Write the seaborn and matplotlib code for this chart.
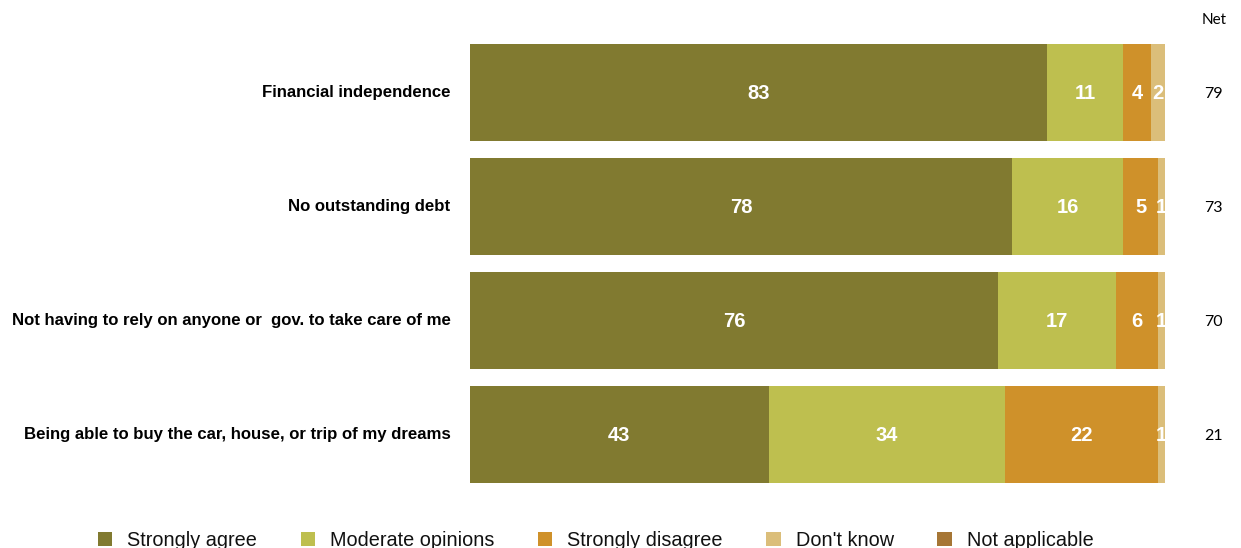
import matplotlib
matplotlib.use("Agg")
import matplotlib.pyplot as plt
from matplotlib.patches import Patch
import seaborn as sns
import pandas as pd
import numpy as np

categories = [
    "Financial independence",
    "No outstanding debt",
    "Not having to rely on anyone or  gov. to take care of me",
    "Being able to buy the car, house, or trip of my dreams",
]
series_names = ["Strongly agree", "Moderate opinions", "Strongly disagree",
                "Don't know", "Not applicable"]
strongly_agree = [83, 78, 76, 43]
moderate = [11, 16, 17, 34]
strongly_disagree = [4, 5, 6, 22]
dont_know = [2, 1, 1, 1]
not_applicable = [0, 0, 0, 0]
net_values = [79, 73, 70, 21]

colors = ["#817A30", "#BEBF4F", "#CF912A", "#DBBE7A", "#A67635"]

sns.set_theme(style="white")
plt.rcParams["font.family"] = ["Liberation Sans", "DejaVu Sans"]

series = [strongly_agree, moderate, strongly_disagree, dont_know, not_applicable]
vals = np.array(series, dtype=float)
cum = np.cumsum(vals, axis=0)

fig = plt.figure(figsize=(12.41, 5.48), dpi=100)
ax = fig.add_axes([470 / 1241, 56.5 / 548, 695 / 1241, 456 / 548])

# draw layered cumulative bars, widest first
for i in range(len(series) - 1, -1, -1):
    df = pd.DataFrame({"cat": categories, "val": cum[i]})
    sns.barplot(data=df, x="val", y="cat", orient="h", color=colors[i],
                saturation=1, width=0.85, ax=ax, linewidth=0)

# value labels
for i in range(len(series) - 1):
    for j, cat in enumerate(categories):
        v = vals[i, j]
        if v > 0:
            ax.text(cum[i, j] - v / 2, j + 0.01, f"{int(v)}", ha="center",
                    va="center", color="white", fontsize=14.5, fontweight="bold")

# Net column
for j, n in enumerate(net_values):
    ax.text(1.07, j + 0.01, f"{n}", transform=ax.get_yaxis_transform(),
            ha="center", va="center", fontsize=11.5, family="Lato", color="black")
ax.text(1.07, 1.034, "Net", transform=ax.transAxes, ha="center", va="center",
        fontsize=11, family="Lato", color="black")

ax.set_xlim(0, 100)
ax.set_ylim(3.5, -0.5)
ax.set_xlabel("")
ax.set_ylabel("")
ax.set_xticks([])
ax.tick_params(axis="y", length=0, pad=14)
for lab in ax.get_yticklabels():
    lab.set_fontweight("bold")
    lab.set_fontsize(12.1)
    lab.set_color("black")
    lab.set_verticalalignment("center")
sns.despine(ax=ax, left=True, bottom=True)

handles = [Patch(facecolor=c, edgecolor="none") for c in colors]
fig.legend(handles, series_names, loc="lower center", ncol=5,
           bbox_to_anchor=(0.48, -0.036), frameon=False, fontsize=14.3,
           handlelength=0.72, handleheight=0.72, handletextpad=0.75,
           columnspacing=2.2, labelcolor="#111111")

fig.savefig("out.png", dpi=100)
